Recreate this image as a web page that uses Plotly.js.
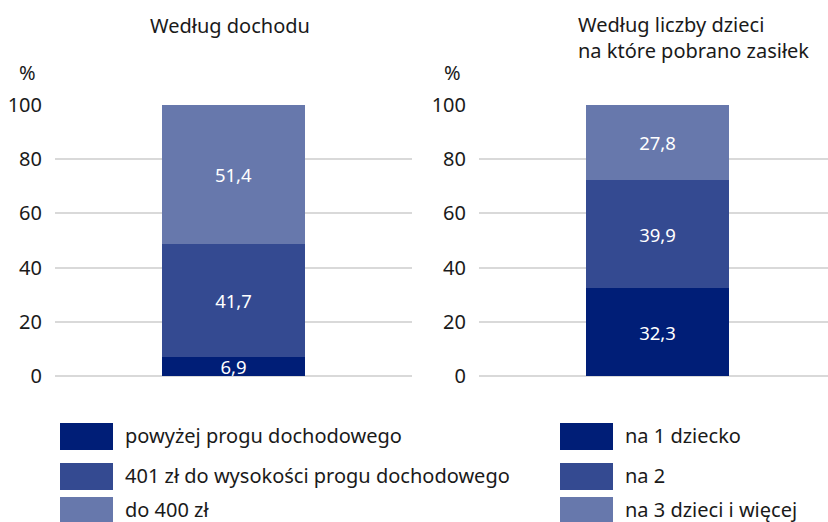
<!DOCTYPE html>
<html><head><meta charset="utf-8">
<script src="https://cdn.plot.ly/plotly-3.0.1.min.js"></script>
<style>body{margin:0;padding:0;}#c{width:828px;height:522px;}</style>
</head><body><div id="c"></div>
<script>
const categories = ["Według dochodu", "Według liczby dzieci"];
const incomeNames = ["powyżej progu dochodowego", "401 zł do wysokości progu dochodowego", "do 400 zł"];
const incomeValues = [6.9, 41.7, 51.4];
const childNames = ["na 1 dziecko", "na 2", "na 3 dzieci i więcej"];
const childValues = [32.3, 39.9, 27.8];
const colors = ["#001e77", "#344a91", "#6778ac"];
const yTicks = [0, 20, 40, 60, 80, 100];

const W = 828, H = 522;
const px = x => x / W, py = y => 1 - y / H;
const FONT = "Noto Sans, sans-serif";
const FS = 20;

const traces = [];
incomeValues.forEach((v, i) => traces.push({
  type: "bar", x: [categories[0]], y: [v], name: incomeNames[i],
  marker: {color: colors[i]}, width: 0.4, xaxis: "x", yaxis: "y",
  texttemplate: "%{y:.1f}", textposition: "inside", insidetextanchor: "middle",
  constraintext: "none", textfont: {color: "#ffffff", size: 18.5, family: FONT},
  showlegend: false, hoverinfo: "skip"
}));
childValues.forEach((v, i) => traces.push({
  type: "bar", x: [categories[1]], y: [v], name: childNames[i],
  marker: {color: colors[i]}, width: 0.41, xaxis: "x2", yaxis: "y2",
  texttemplate: "%{y:.1f}", textposition: "inside", insidetextanchor: "middle",
  constraintext: "none", textfont: {color: "#ffffff", size: 18.5, family: FONT},
  showlegend: false, hoverinfo: "skip"
}));

const yax = (anchor) => ({
  domain: [py(376), py(105)], range: [0, 100], tickvals: yTicks,
  showgrid: true, gridcolor: "#d9d9d9", gridwidth: 2,
  zeroline: true, zerolinecolor: "#d9d9d9", zerolinewidth: 2,
  showline: false, ticks: "", ticklabelstandoff: 12, anchor: anchor,
  tickfont: {size: FS, color: "#1a1a1a", family: FONT}, fixedrange: true
});

const shapes = [], annotations = [];
function legendItem(x, y, color, text) {
  shapes.push({type: "rect", xref: "paper", yref: "paper",
    x0: px(x), x1: px(x + 53), y0: py(y + 27), y1: py(y),
    fillcolor: color, line: {width: 0}});
  annotations.push({xref: "paper", yref: "paper", x: px(x + 63), y: py(y + 12),
    xanchor: "left", yanchor: "middle", text: text, showarrow: false,
    font: {size: FS, color: "#1a1a1a", family: FONT}});
}
const rowsY = [423, 463, 497];
incomeNames.forEach((n, i) => legendItem(60, rowsY[i], colors[i], n));
childNames.forEach((n, i) => legendItem(560, rowsY[i], colors[i], n));

annotations.push({xref: "paper", yref: "paper", x: px(230), y: py(26), xanchor: "center", yanchor: "middle",
  text: "Według dochodu", showarrow: false, font: {size: FS, color: "#1a1a1a", family: FONT}});
annotations.push({xref: "paper", yref: "paper", x: px(576), y: py(38), xanchor: "left", yanchor: "middle", align: "left",
  text: "Według liczby dzieci<br>na które pobrano zasiłek", showarrow: false,
  font: {size: FS, color: "#1a1a1a", family: FONT}});
annotations.push({xref: "paper", yref: "paper", x: px(27), y: py(72), xanchor: "center", yanchor: "middle",
  text: "%", showarrow: false, font: {size: FS, color: "#1a1a1a", family: FONT}});
annotations.push({xref: "paper", yref: "paper", x: px(452), y: py(72), xanchor: "center", yanchor: "middle",
  text: "%", showarrow: false, font: {size: FS, color: "#1a1a1a", family: FONT}});

const layout = {
  width: W, height: H, margin: {l: 0, r: 0, t: 0, b: 0},
  paper_bgcolor: "#ffffff", plot_bgcolor: "#ffffff",
  barmode: "stack", separators: ", ",
  font: {family: FONT, size: FS, color: "#1a1a1a"},
  xaxis: {domain: [px(55), px(412)], range: [-0.5, 0.5], showticklabels: false, showgrid: false, zeroline: false, fixedrange: true},
  xaxis2: {domain: [px(479), 1], range: [-0.5115, 0.4885], showticklabels: false, showgrid: false, zeroline: false, fixedrange: true},
  yaxis: yax("x"),
  yaxis2: yax("x2"),
  shapes: shapes, annotations: annotations, showlegend: false
};

Plotly.newPlot("c", traces, layout, {displayModeBar: false, staticPlot: true});
</script></body></html>
